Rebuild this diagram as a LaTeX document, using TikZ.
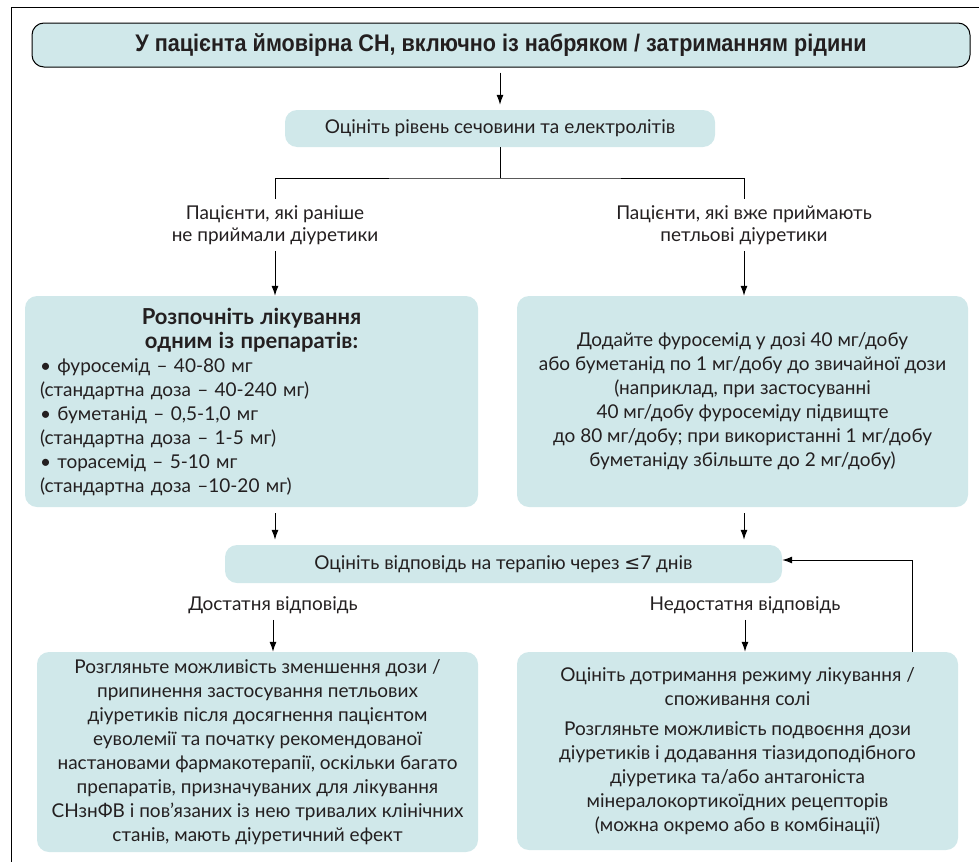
\documentclass[tikz,border=0pt]{standalone}
\usepackage{fontspec}
\setmainfont{Lato}
\newfontfamily\titlefont[FakeStretch=0.9]{Liberation Sans}
\newfontfamily\symbfont{DejaVu Sans}
\usetikzlibrary{arrows.meta}
\definecolor{boxfill}{RGB}{208,232,234}
\definecolor{inkgrey}{RGB}{35,31,32}

\begin{document}
\begin{tikzpicture}[
    x=1pt, y=-1pt,
    font=\fontsize{19}{24}\selectfont,
    every node/.style={text=inkgrey},
    box/.style={fill=boxfill, rounded corners=12pt, align=center, inner sep=0pt},
    branch/.style={align=center, inner sep=6pt, font=\fontsize{19}{22}\selectfont},
    line/.style={line width=1pt},
    arrow/.style={line width=1pt, -{Latex[length=10pt,width=7pt]}}
  ]
  \useasboundingbox (0,0) rectangle (979,862);
  % frame
  \draw[line] (979,7) -- (11,7) -- (11,862);

  % start and first check
  \node[box, draw, line width=1pt, minimum width=938pt, minimum height=44pt] (title) at (501,45)
    {\titlefont\bfseries\fontsize{24}{26}\selectfont У пацієнта ймовірна СН, включно із набряком / затриманням рідини};
  \node[box, minimum width=430pt, minimum height=37pt] (urea) at (500,128.5)
    {Оцініть рівень сечовини та електролітів};

  % two groups of patients
  \node[branch] (naive) at (275,225) {Пацієнти, які раніше\\не приймали діуретики};
  \node[branch] (onloop) at (744,225) {Пацієнти, які вже приймають\\петльові діуретики};
  \node[box, align=left, text width=423pt, minimum width=453pt, minimum height=211pt] (start) at (251.5,401.5)
    {\makebox[\linewidth]{\fontsize{22}{24}\selectfont\bfseries Розпочніть лікування}\\
     \makebox[\linewidth]{\fontsize{22}{24}\selectfont\bfseries одним із препаратів:}\\
     • фуросемід – 40-80 мг\\
     (стандартна доза – 40-240 мг)\\
     • буметанід – 0,5-1,0 мг\\
     (стандартна доза – 1-5 мг)\\
     • торасемід – 5-10 мг\\
     (стандартна доза –10-20 мг)};
  \node[box, minimum width=451pt, minimum height=211pt] (raise) at (742.5,401.5)
    {Додайте фуросемід у дозі 40 мг/добу\\
     або буметанід по 1 мг/добу до звичайної дози\\
     (наприклад, при застосуванні\\
     40 мг/добу фуросеміду підвищте\\
     до 80 мг/добу; при використанні 1 мг/добу\\
     буметаніду збільште до 2 мг/добу)};

  % response
  \node[box, minimum width=557pt, minimum height=38pt] (resp) at (503.5,564)
    {Оцініть відповідь на терапію через {\symbfont ≤}7 днів};
  \node[branch] (good) at (273,605) {Достатня відповідь};
  \node[branch] (poor) at (745,605) {Недостатня відповідь};
  \node[box, minimum width=441pt, minimum height=200pt] (taper) at (257.5,752)
    {Розгляньте можливість зменшення дози /\\
     припинення застосування петльових\\
     діуретиків після досягнення пацієнтом\\
     еуволемії та початку рекомендованої\\
     настановами фармакотерапії, оскільки багато\\
     препаратів, призначуваних для лікування\\
     СНзнФВ і пов’язаних із нею тривалих клінічних\\
     станів, мають діуретичний ефект};
  \node[box, minimum width=441pt, minimum height=198pt] (adher) at (737.5,751)
    {Оцініть дотримання режиму лікування /\\
     споживання солі\\[6pt]
     Розгляньте можливість подвоєння дози\\
     діуретиків і додавання тіазидоподібного\\
     діуретика та/або антагоніста\\
     мінералокортикоїдних рецепторів\\
     (можна окремо або в комбінації)};

  % connectors
  \coordinate (split) at (500,178);
  \coordinate (loop) at (912,560);
  \draw[arrow, shorten <=5pt, shorten >=5pt] (title.south -| urea) -- (urea.north);
  \draw[line] (urea.south) -- (split);
  \draw[line] (naive.north) |- (split) -| (onloop.north);
  \draw[arrow] (naive.south) -- (naive.south |- start.north);
  \draw[arrow] (onloop.south) -- (onloop.south |- raise.north);
  \draw[arrow, shorten <=6pt, shorten >=5pt] (naive |- start.south) -- (naive |- resp.north);
  \draw[arrow, shorten <=6pt, shorten >=5pt] (onloop |- raise.south) -- (onloop |- resp.north);
  \draw[arrow] (good.south) -- (good.south |- taper.north);
  \draw[arrow] (poor.south) -- (poor.south |- adher.north);
  \draw[arrow] (adher.north -| loop) -- (loop) -- (loop -| resp.east);
\end{tikzpicture}
\end{document}
